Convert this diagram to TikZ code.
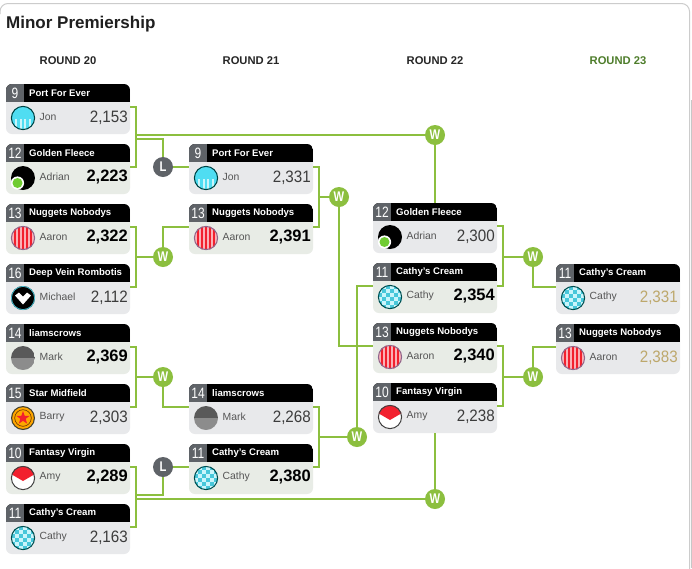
\documentclass[tikz,border=0pt]{standalone}
\usepackage{fontspec}
\setmainfont{Liberation Sans}
\newfontfamily\narrowf[FakeStretch=0.92]{Liberation Sans}
\newfontfamily\medalf[FakeStretch=0.80]{Liberation Sans}
\usetikzlibrary{calc}
\definecolor{lime}{HTML}{8CBF3F}
\definecolor{medal}{HTML}{8CBF3F}
\definecolor{slate}{HTML}{5F6368}
\definecolor{winbg}{HTML}{E8ECE6}
\definecolor{losebg}{HTML}{E8E9EB}
\definecolor{gold}{HTML}{BDA86C}
\definecolor{scoregrey}{HTML}{3C3C3C}
\definecolor{namegrey}{HTML}{555555}
\definecolor{cyanav}{HTML}{4FDDF2}
\definecolor{redav}{HTML}{F2202E}
\definecolor{roundgreen}{HTML}{4E7D2B}
\tikzset{
  x=1pt,y=-1pt,
  conn/.style={draw=lime,line width=2.2pt,line cap=butt,line join=miter},
  cardbody/.style={anchor=north west,minimum width=124pt,minimum height=50pt,inner sep=0pt,outer sep=0pt,rounded corners=6pt},
  medalW/.style={circle,fill=medal,text=white,minimum size=20pt,inner sep=0pt,font=\medalf\fontsize{14}{14}\selectfont\bfseries},
  medalL/.style={circle,fill=slate,text=white,minimum size=20pt,inner sep=0pt,font=\medalf\fontsize{14}{14}\selectfont\bfseries},
  roundlabel/.style={font=\fontsize{11.2}{12}\selectfont\bfseries,text=black!85},
  seedtext/.style={text=white,font=\medalf\fontsize{15}{15}\selectfont},
  teamtext/.style={anchor=west,text=white,font=\fontsize{9.6}{10}\selectfont\bfseries},
  nametext/.style={anchor=west,text=namegrey,font=\fontsize{10.4}{12}\selectfont},
  losescore/.style={anchor=east,text=scoregrey,font=\narrowf\fontsize{16.5}{17}\selectfont},
  winscore/.style={anchor=east,text=black,font=\fontsize{16.5}{17}\selectfont\bfseries},
  goldscore/.style={anchor=east,text=gold,font=\narrowf\fontsize{16.5}{17}\selectfont},
}
% Avatars, drawn centred on the origin of a scope
\newcommand{\avjon}{%
  \begin{scope}\clip (0,0) circle (12);
    \fill[cyanav] (-12,-12) rectangle (12,12);
    \foreach \u in {-7,-2.3,2.3,7}{\fill[white!70!cyanav] (\u-.9,1) rectangle (\u+.9,12);}
  \end{scope}
  \draw[black!50!teal,line width=1pt] (0,0) circle (11.6);}
\newcommand{\avadrian}{%
  \fill[black] (0,0) circle (12);
  \fill[white] (-5.5,5) circle (6.6);
  \fill[lime!80!green] (-5.5,5) circle (5);}
\newcommand{\avaaron}{%
  \begin{scope}\clip (0,0) circle (12);
    \fill[white!65!redav] (-12,-12) rectangle (12,12);
    \foreach \u in {-8,-4,0,4,8}{\fill[redav] (\u-1.2,-12) rectangle (\u+1.2,12);}
  \end{scope}
  \draw[black!50!violet!60,line width=1pt] (0,0) circle (11.6);}
\newcommand{\avmichael}{%
  \fill[black] (0,0) circle (12);
  \draw[cyanav!85!black,line width=.8pt] (0,0) circle (11.6);
  \fill[white] (-8,-2.5) -- (-4,-5.5) -- (0,-1.5) -- (4,-5.5) -- (8,-2.5) -- (0,6.5) -- cycle;}
\newcommand{\avmark}{%
  \begin{scope}\clip (0,0) circle (12);
    \fill[black!65] (-12,-12) rectangle (12,0);
    \fill[black!45] (-12,0) rectangle (12,12);
  \end{scope}}
\newcommand{\avbarry}{%
  \fill[black!70!olive] (0,0) circle (12);
  \fill[orange!70!yellow] (0,0) circle (10.8);
  \draw[black!60!orange,line width=.6pt] (0,0) circle (8.3);
  \fill[redav] (270:7) -- (306:2.8) -- (342:7) -- (18:2.8) -- (54:7) -- (90:2.8) -- (126:7) -- (162:2.8) -- (198:7) -- (234:2.8) -- cycle;}
\newcommand{\avamy}{%
  \begin{scope}\clip (0,0) circle (12);
    \fill[white] (-12,-12) rectangle (12,12);
    \fill[redav] (-12,-12) -- (12,-12) -- (12,-4) -- (0,3) -- (-12,-4) -- cycle;
  \end{scope}
  \draw[black!75,line width=1pt] (0,0) circle (11.6);}
\newcommand{\avcathy}{%
  \begin{scope}\clip (0,0) circle (12);
    \fill[white!70!cyanav] (-12,-12) rectangle (12,12);
    \foreach \i in {-3,...,2}{\foreach \j in {-3,...,2}{%
      \pgfmathparse{int(mod(\i+\j+6,2))}%
      \ifnum\pgfmathresult=0 \fill[cyanav!90!black] (4*\i,4*\j) rectangle (4*\i+4,4*\j+4);\fi}}
  \end{scope}
  \draw[black!40!teal,line width=1pt] (0,0) circle (11.6);}
% \card{name}{x}{y}{seed}{team}{avatar}{player}{score node}{bg}
\newcommand{\card}[9]{%
  \node[cardbody,fill=#9] (#1) at (#2,#3) {};
  \begin{scope}
    \clip[rounded corners=6pt] (#1.north west) rectangle (#1.south east);
    \fill[black] ($(#1.north west)$) rectangle ($(#1.north west)+(124,18)$);
    \fill[slate] ($(#1.north west)$) rectangle ($(#1.north west)+(18,18)$);
  \end{scope}
  \node[seedtext] (#1seed) at ($(#1.north west)+(9,9)$) {#4};
  \node[teamtext,inner sep=0pt] (#1team) at ($(#1.north west)+(23,9.2)$) {#5};
  \coordinate (#1r) at ($(#1.north east)+(0,23)$);
  \coordinate (#1l) at ($(#1.north west)+(0,23)$);
  \coordinate (#1j) at ($(#1.north east)+(6,23)$);
  \begin{scope}[shift={($(#1.north west)+(17,34)$)}] \csname av#6\endcsname \end{scope}
  \node[nametext,inner sep=0pt] (#1name) at ($(#1.north west)+(33.5,32.5)$) {#7};
  #8%
}
\newcommand{\scorenode}[3]{\node[#2,inner sep=0pt] (#1score) at ($(#1.north east)+(-2,33.5)$) {#3};}
\begin{document}
\begin{tikzpicture}
\useasboundingbox (0,0) rectangle (692,568);
\fill[white] (0,0) rectangle (692,568);
\draw[black!20,line width=1pt,rounded corners=8pt] (0,14) -- (0,3.5) -- (689.5,3.5) -- (689.5,580);
\fill[black!22] (690.5,100) rectangle (692,568);
\node[anchor=west,inner sep=0pt,font=\fontsize{17}{18}\selectfont\bfseries,text=black!88] (title) at (6,24.5) {Minor Premiership};
\node[roundlabel] (r20) at (68,60.5) {ROUND 20};
\node[roundlabel] (r21) at (251,60.5) {ROUND 21};
\node[roundlabel] (r22) at (435,60.5) {ROUND 22};
\node[roundlabel,text=roundgreen] (r23) at (618,60.5) {ROUND 23};
% column 1
\card{a}{6}{84}{9}{Port For Ever}{jon}{Jon}{\scorenode{a}{losescore}{2,153}}{losebg}
\card{b}{6}{144}{12}{Golden Fleece}{adrian}{Adrian}{\scorenode{b}{winscore}{2,223}}{winbg}
\card{c}{6}{204}{13}{Nuggets Nobodys}{aaron}{Aaron}{\scorenode{c}{winscore}{2,322}}{winbg}
\card{d}{6}{264}{16}{Deep Vein Rombotis}{michael}{Michael}{\scorenode{d}{losescore}{2,112}}{losebg}
\card{e}{6}{324}{14}{liamscrows}{mark}{Mark}{\scorenode{e}{winscore}{2,369}}{winbg}
\card{f}{6}{384}{15}{Star Midfield}{barry}{Barry}{\scorenode{f}{losescore}{2,303}}{losebg}
\card{g}{6}{444}{10}{Fantasy Virgin}{amy}{Amy}{\scorenode{g}{winscore}{2,289}}{winbg}
\card{h}{6}{504}{11}{Cathy's Cream}{cathy}{Cathy}{\scorenode{h}{losescore}{2,163}}{losebg}
% column 2
\card{i}{189}{144}{9}{Port For Ever}{jon}{Jon}{\scorenode{i}{losescore}{2,331}}{losebg}
\card{j}{189}{204}{13}{Nuggets Nobodys}{aaron}{Aaron}{\scorenode{j}{winscore}{2,391}}{winbg}
\card{k}{189}{384}{14}{liamscrows}{mark}{Mark}{\scorenode{k}{losescore}{2,268}}{losebg}
\card{m}{189}{444}{11}{Cathy's Cream}{cathy}{Cathy}{\scorenode{m}{winscore}{2,380}}{winbg}
% column 3
\card{n}{373}{203}{12}{Golden Fleece}{adrian}{Adrian}{\scorenode{n}{losescore}{2,300}}{losebg}
\card{o}{373}{263}{11}{Cathy's Cream}{cathy}{Cathy}{\scorenode{o}{winscore}{2,354}}{winbg}
\card{p}{373}{323}{13}{Nuggets Nobodys}{aaron}{Aaron}{\scorenode{p}{winscore}{2,340}}{winbg}
\card{q}{373}{383}{10}{Fantasy Virgin}{amy}{Amy}{\scorenode{q}{losescore}{2,238}}{losebg}
% column 4
\card{s}{556}{264}{11}{Cathy's Cream}{cathy}{Cathy}{\scorenode{s}{goldscore}{2,331}}{losebg}
\card{t}{556}{324}{13}{Nuggets Nobodys}{aaron}{Aaron}{\scorenode{t}{goldscore}{2,383}}{losebg}
% medals
\node[medalW] (w1) at (435,135) {W};
\node[medalL] (l1) at (163,167) {L};
\node[medalW] (w2) at (163,257) {W};
\node[medalW] (w3) at (163,377) {W};
\node[medalL] (l2) at (163,467) {L};
\node[medalW] (w4) at (435,499) {W};
\node[medalW] (w5) at (339,197) {W};
\node[medalW] (w6) at (357,437) {W};
\node[medalW] (w7) at (533,257) {W};
\node[medalW] (w8) at (533,377) {W};
% connectors
\draw[conn] (ar) -- (aj) |- (br);
\draw[conn] (aj |- w1.west) -- (w1.west);
\draw[conn] (w1) -- (n.north -| w1);
\draw[conn] ($(aj)+(0,32)$) -| (l1.north);
\draw[conn] (l1) -- (il);
\draw[conn] (cr) -- (cj) |- (dr);
\draw[conn] (cj |- w2.west) -- (w2.west);
\draw[conn] (w2.north) |- (jl);
\draw[conn] (er) -- (ej) |- (fr);
\draw[conn] (ej |- w3.west) -- (w3.west);
\draw[conn] (w3.south) |- (kl);
\draw[conn] (gr) -- (gj) |- (hr);
\draw[conn] ($(gj)+(0,28)$) -| (l2.south);
\draw[conn] (l2) -- (ml);
\draw[conn] (gj |- w4.west) -- (w4.west);
\draw[conn] (w4.north) -- (q.south -| w4);
\draw[conn] (ir) -- (ij) |- (jr);
\draw[conn] (ij |- w5.west) -- (w5.west);
\draw[conn] (w5.south) |- (pl);
\draw[conn] (kr) -- (kj) |- (mr);
\draw[conn] (kj |- w6.west) -- (w6.west);
\draw[conn] (w6.north) |- (ol);
\draw[conn] (nr) -- (nj) |- (or);
\draw[conn] (nj |- w7.west) -- (w7.west);
\draw[conn] (w7.south) |- (sl);
\draw[conn] (pr) -- (pj) |- (qr);
\draw[conn] (pj |- w8.west) -- (w8.west);
\draw[conn] (w8.north) |- (tl);
\end{tikzpicture}
\end{document}
